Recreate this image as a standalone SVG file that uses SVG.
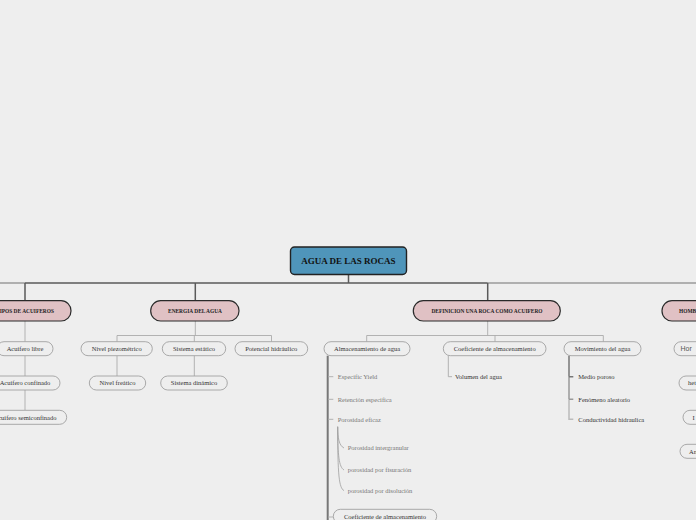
<svg xmlns="http://www.w3.org/2000/svg" width="696" height="520" viewBox="0 0 696 520">
<style>
.bg{fill:#eeeeee}
.root{fill:#4f95ba;stroke:#222;stroke-width:1.4}
.l1{fill:#e0c1c4;stroke:#2a2a2a;stroke-width:1.2}
.l2{fill:#eeeeee;stroke:#a0a0a0;stroke-width:0.9}
.tr{font-family:"Liberation Serif",serif;font-weight:bold;font-size:9px;fill:#111;text-anchor:middle}
.t1{font-family:"Liberation Serif",serif;font-weight:bold;font-size:5.4px;fill:#222;text-anchor:middle}
.t2{font-family:"Liberation Serif",serif;font-size:6.5px;fill:#333;text-anchor:middle}
.ti{font-family:"Liberation Serif",serif;font-size:6.5px;fill:#333}
.tl{font-family:"Liberation Serif",serif;font-size:6.5px;fill:#777}
.dk{stroke:#5a5a5a;stroke-width:1.5;fill:none}
.lt{stroke:#9a9a9a;stroke-width:1.5;fill:none}
.c2{stroke:#aaaaaa;stroke-width:0.9;fill:none}
.th{stroke:#777;stroke-width:2;fill:none}
.cv{stroke:#a0a0a0;stroke-width:0.8;fill:none}
</style>
<rect class="bg" x="0" y="0" width="696" height="520"/>
<g id="connectors">
  <path class="lt" d="M0,283 H25"/>
  <path class="lt" d="M487.7,283 H696"/>
  <path class="dk" d="M25,283 H487.7 M348.5,274.5 V283 M25,283 V301 M195.3,283 V301 M487.7,283 V301"/>
  <!-- TIPOS -->
  <path class="c2" d="M25,321 V341.7 M25,355.7 V376 M25,390 V410.3"/>
  <!-- ENERGIA -->
  <path class="c2" d="M195.3,321 V335.5"/>
  <path class="c2" d="M117,335.5 H271.5 M117,335.5 V341.7 M194.3,335.5 V341.7 M271.5,335.5 V341.7"/>
  <path class="c2" d="M117,355.7 V376 M194.3,355.7 V376"/>
  <!-- DEFINICION -->
  <path class="c2" d="M487.7,321 V335.5"/>
  <path class="c2" d="M366.7,335.5 H603.3 M366.7,335.5 V341.7 M495,335.5 V341.7 M603.3,335.5 V341.7"/>
  <path class="th" d="M327.7,355.7 V520"/>
  <path class="c2" d="M328,376.7 H333.3 M328,399.3 H333.3 M328,419.3 H333.3 M328,517 H333.3"/>
  <path class="cv" d="M337.7,426.7 C337.7,438 339,445.5 344,448 M337.7,426.7 C337.7,456 339,467 344,470 M337.7,426.7 C337.7,476 339,487.5 344,490.7"/>
  <path class="c2" d="M448.3,355.7 V376.7 H452"/>
  <path stroke="#bbbbbb" stroke-width="1.5" fill="none" d="M569,399.3 V419.3 H573.3"/>
  <path stroke="#999999" stroke-width="1.5" fill="none" d="M569,376.7 V399.3 M569,399.3 H573.3"/>
  <path stroke="#777777" stroke-width="1.5" fill="none" d="M569,355.7 V376.7 M569,376.7 H573.3"/>
</g>
<g id="root">
  <rect class="root" x="290.5" y="247" width="116" height="27.5" rx="4"/>
  <text class="tr" x="348.5" y="264.2">AGUA DE LAS ROCAS</text>
</g>
<g id="tipos">
  <rect class="l1" x="-21" y="300.7" width="92" height="20.3" rx="10"/>
  <text class="t1" x="25" y="312.8">TIPOS DE ACUIFEROS</text>
</g>
<g id="energia">
  <rect class="l1" x="150.7" y="300.7" width="88.3" height="20.3" rx="10"/>
  <text class="t1" x="195" y="312.8">ENERGIA DEL AGUA</text>
</g>
<g id="definicion">
  <rect class="l1" x="413.3" y="300.7" width="147" height="20.3" rx="10"/>
  <text class="t1" x="487" y="312.8">DEFINICION UNA ROCA COMO ACUIFERO</text>
</g>
<g id="hombre">
  <rect class="l1" x="662" y="300.7" width="100" height="20.3" rx="10"/>
  <text class="t1" x="679" y="312.8" text-anchor="start" style="text-anchor:start">HOMBRE</text>
</g>
<g id="acuifero-libre">
  <rect class="l2" x="-3" y="341.7" width="56" height="14" rx="7"/>
  <text class="t2" x="25" y="351">Acuifero libre</text>
</g>
<g id="acuifero-confinado">
  <rect class="l2" x="-10" y="376" width="70" height="14" rx="7"/>
  <text class="t2" x="25" y="385.3">Acuifero confinado</text>
</g>
<g id="acuifero-semiconfinado">
  <rect class="l2" x="-16.7" y="410.3" width="83.4" height="14" rx="7"/>
  <text class="t2" x="25" y="419.6">Acuifero semiconfinado</text>
</g>
<g id="nivel-piezometrico">
  <rect class="l2" x="81" y="341.7" width="71.3" height="14" rx="7"/>
  <text class="t2" x="116.7" y="351">Nivel piezométrico</text>
</g>
<g id="sistema-estatico">
  <rect class="l2" x="162.3" y="341.7" width="63.4" height="14" rx="7"/>
  <text class="t2" x="194" y="351">Sistema estático</text>
</g>
<g id="potencial-hidraulico">
  <rect class="l2" x="235" y="341.7" width="72.7" height="14" rx="7"/>
  <text class="t2" x="271.3" y="351">Potencial hidráulico</text>
</g>
<g id="nivel-freatico">
  <rect class="l2" x="89.3" y="376" width="56.4" height="14" rx="7"/>
  <text class="t2" x="117.5" y="385.3">Nivel freático</text>
</g>
<g id="sistema-dinamico">
  <rect class="l2" x="160.7" y="376" width="66.6" height="14" rx="7"/>
  <text class="t2" x="194" y="385.3">Sistema dinámico</text>
</g>
<g id="almacenamiento">
  <rect class="l2" x="324" y="341.7" width="86" height="14" rx="7"/>
  <text class="t2" x="367" y="351">Almacenamiento de agua</text>
</g>
<g id="coeficiente">
  <rect class="l2" x="443.3" y="341.7" width="102.7" height="14" rx="7"/>
  <text class="t2" x="494.7" y="351">Coeficiente de almacenamiento</text>
</g>
<g id="movimiento">
  <rect class="l2" x="564" y="341.7" width="77" height="14" rx="7"/>
  <text class="t2" x="602.5" y="351">Movimiento del agua</text>
</g>
<g id="coeficiente-2">
  <rect class="l2" x="333.3" y="509.3" width="103.4" height="14" rx="7"/>
  <text class="t2" x="385" y="518.6">Coeficiente de almacenamiento</text>
</g>
<g id="items-almacenamiento">
  <text class="tl" x="337.7" y="379">Especific Yield</text>
  <text class="tl" x="337.7" y="401.6">Retención especifica</text>
  <text class="tl" x="337.7" y="421.6">Porosidad eficaz</text>
  <text class="tl" x="347.7" y="450">Porosidad intergranular</text>
  <text class="tl" x="347.7" y="472.3">porosidad por fisuración</text>
  <text class="tl" x="347.7" y="493">porosidad por disolución</text>
</g>
<g id="items-coeficiente">
  <text class="ti" x="455" y="379">Volumen del agua</text>
</g>
<g id="items-movimiento">
  <text class="ti" x="578.3" y="379">Medio poroso</text>
  <text class="ti" x="578.3" y="401.6">Fenómeno aleatorio</text>
  <text class="ti" x="578.3" y="421.6">Conductividad hidraulica</text>
</g>
<g id="hor">
  <rect class="l2" x="674" y="341.7" width="60" height="14" rx="7"/>
  <text x="680.5" y="351.2" style="font-family:'Liberation Sans',sans-serif;font-size:7px;fill:#555">Hor</text>
</g>
<g id="het">
  <rect class="l2" x="679" y="376" width="60" height="14" rx="7"/>
  <text class="ti" x="688" y="385.3">het</text>
</g>
<g id="i-node">
  <rect class="l2" x="683" y="410.3" width="60" height="14" rx="7"/>
  <text class="ti" x="692.5" y="419.6">I</text>
</g>
<g id="an">
  <rect class="l2" x="680" y="444.3" width="60" height="14" rx="7"/>
  <text class="ti" x="689" y="453.6">An</text>
</g>
</svg>
